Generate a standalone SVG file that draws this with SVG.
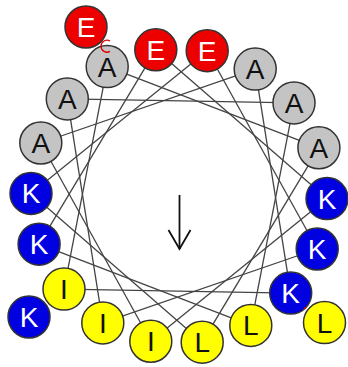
<svg xmlns="http://www.w3.org/2000/svg" width="348" height="367" viewBox="0 0 348 367">
<style>
.bg{fill:#ffffff}
.conn line{stroke:#444;stroke-width:1.3;fill:none}
.res circle{stroke:#333;stroke-width:1.5}
.res text{font-family:"Liberation Sans",Arial,sans-serif;font-size:28px;text-anchor:middle}
.E circle{fill:#ec0000}.E text{fill:#ffffff}
.A circle{fill:#c4c4c4}.A text{fill:#111}
.K circle{fill:#0000e0}.K text{fill:#ffffff}
.Y circle{fill:#ffff00}.Y text{fill:#111}
</style>
<rect class="bg" x="0" y="0" width="348" height="367"/>
<g id="connectors" class="conn">
<line x1="107.2" y1="66.6" x2="64.0" y2="289.1"/>
<line x1="64.0" y1="289.1" x2="290.7" y2="293.1"/>
<line x1="290.7" y1="293.1" x2="255.2" y2="69.1"/>
<line x1="255.2" y1="69.1" x2="40.8" y2="143.0"/>
<line x1="40.8" y1="143.0" x2="150.8" y2="341.3"/>
<line x1="150.8" y1="341.3" x2="327.0" y2="198.6"/>
<line x1="327.0" y1="198.6" x2="155.8" y2="49.8"/>
<line x1="155.8" y1="49.8" x2="39.1" y2="244.2"/>
<line x1="39.1" y1="244.2" x2="250.8" y2="325.4"/>
<line x1="250.8" y1="325.4" x2="294.0" y2="102.9"/>
<line x1="294.0" y1="102.9" x2="67.3" y2="98.9"/>
<line x1="67.3" y1="98.9" x2="102.8" y2="322.9"/>
<line x1="102.8" y1="322.9" x2="317.2" y2="249.0"/>
<line x1="317.2" y1="249.0" x2="207.2" y2="50.7"/>
<line x1="207.2" y1="50.7" x2="31.0" y2="193.4"/>
<line x1="31.0" y1="193.4" x2="202.2" y2="342.2"/>
<line x1="202.2" y1="342.2" x2="318.9" y2="147.8"/>
<line x1="318.9" y1="147.8" x2="107.2" y2="66.6"/>
</g>
<g id="arrow" fill="none" stroke="#111" stroke-width="1.8">
<line x1="179.5" y1="195" x2="179.5" y2="249"/>
<polyline points="168.5,230 179.5,249 190.5,230"/>
</g>
<g id="r19" class="res E"><circle cx="86" cy="27" r="21"/><text x="86" y="37">E</text></g>
<g id="r1" class="res A"><circle cx="107.2" cy="66.6" r="21"/><text x="107.2" y="76.6">A</text></g>
<g id="r8" class="res E"><circle cx="155.8" cy="49.8" r="21"/><text x="155.8" y="59.8">E</text></g>
<g id="r15" class="res E"><circle cx="207.2" cy="50.7" r="21"/><text x="207.2" y="60.7">E</text></g>
<g id="r4" class="res A"><circle cx="255.2" cy="69.1" r="21"/><text x="255.2" y="79.1">A</text></g>
<g id="r11" class="res A"><circle cx="294.0" cy="102.9" r="21"/><text x="294.0" y="112.9">A</text></g>
<g id="r18" class="res A"><circle cx="318.9" cy="147.8" r="21"/><text x="318.9" y="157.8">A</text></g>
<g id="r7" class="res K"><circle cx="327.0" cy="198.6" r="21"/><text x="327.0" y="208.6">K</text></g>
<g id="r14" class="res K"><circle cx="317.2" cy="249.0" r="21"/><text x="317.2" y="259.0">K</text></g>
<g id="r3" class="res K"><circle cx="290.7" cy="293.1" r="21"/><text x="290.7" y="303.1">K</text></g>
<g id="r21" class="res Y"><circle cx="324.5" cy="322.6" r="21"/><text x="324.5" y="332.6">L</text></g>
<g id="r10" class="res Y"><circle cx="250.8" cy="325.4" r="21"/><text x="250.8" y="335.4">L</text></g>
<g id="r17" class="res Y"><circle cx="202.2" cy="342.2" r="21"/><text x="202.2" y="352.2">L</text></g>
<g id="r6" class="res Y"><circle cx="150.8" cy="341.3" r="21"/><text x="150.8" y="351.3">I</text></g>
<g id="r13" class="res Y"><circle cx="102.8" cy="322.9" r="21"/><text x="102.8" y="332.9">I</text></g>
<g id="r20" class="res K"><circle cx="29" cy="317" r="21"/><text x="29" y="327">K</text></g>
<g id="r2" class="res Y"><circle cx="64.0" cy="289.1" r="21"/><text x="64.0" y="299.1">I</text></g>
<g id="r9" class="res K"><circle cx="39.1" cy="244.2" r="21"/><text x="39.1" y="254.2">K</text></g>
<g id="r16" class="res K"><circle cx="31.0" cy="193.4" r="21"/><text x="31.0" y="203.4">K</text></g>
<g id="r5" class="res A"><circle cx="40.8" cy="143.0" r="21"/><text x="40.8" y="153.0">A</text></g>
<g id="r12" class="res A"><circle cx="67.3" cy="98.9" r="21"/><text x="67.3" y="108.9">A</text></g>
<g id="marks" fill="none" stroke="#e00000" stroke-width="1.3">
<path d="M110,41 A6,6 0 1 0 110,51.4"/>
<circle cx="305" cy="308" r="1" fill="#e00000" stroke="none"/>
</g>
</svg>
